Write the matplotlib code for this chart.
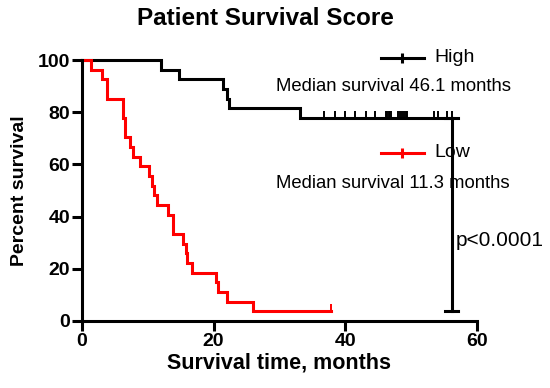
import numpy as np
import matplotlib
matplotlib.use("Agg")
import matplotlib.pyplot as plt

plt.rcParams['font.family'] = ['Liberation Sans', 'DejaVu Sans']

# ---- data (months) ----
high_death_times = [12.0, 14.7, 21.5, 22.0, 22.4, 33.1]
high_censor_times = [36.8, 38.5, 40.0, 41.5, 43.2, 44.5, 46.2, 46.4, 46.6, 46.8, 47.0,
                     48.0, 48.3, 48.6, 48.9, 49.2, 49.4, 53.5, 54.1, 55.4, 56.2]
low_death_times = [1.4, 3.0, 3.75, 3.75, 6.2, 6.2, 6.5, 6.5, 7.3, 7.8, 8.8, 10.2, 10.7,
                   10.9, 11.4, 13.1, 13.9, 13.9, 15.3, 15.8, 15.9, 16.7, 20.4, 20.6,
                   22.0, 26.0]
low_censor_times = [37.8]

group_names = ["High", "Low"]
median_texts = ["Median survival 46.1 months", "Median survival 11.3 months"]
p_text = "p<0.0001"
x_ticks = [0, 20, 40, 60]
y_ticks = [0, 20, 40, 60, 80, 100]


def kaplan_meier(deaths, censors):
    times = sorted(set(deaths) | set(censors))
    n = len(deaths) + len(censors)
    s = 100.0
    xs, ys = [0.0], [100.0]
    cx, cy = [], []
    for t in times:
        d = deaths.count(t)
        c = censors.count(t)
        if d:
            s = s * (n - d) / n
        xs.append(t)
        ys.append(s)
        if c:
            cx.append(t)
            cy.append(s)
        n -= d + c
    return np.array(xs), np.array(ys), np.array(cx), np.array(cy)


fig = plt.figure(figsize=(5.5, 3.88), dpi=100)
ax = fig.add_axes([0.149, 0.173, 0.718, 0.672])

LW = 2.2
colors = ["black", "#ff0000"]
finals = []
for deaths, censors, col in [(high_death_times, high_censor_times, colors[0]),
                             (low_death_times, low_censor_times, colors[1])]:
    xs, ys, cx, cy = kaplan_meier(deaths, censors)
    ax.plot(xs, ys, drawstyle='steps-post', color=col, lw=LW, clip_on=False,
            solid_joinstyle='miter')
    ax.plot(cx, cy, linestyle='none', marker=2, markersize=5, mew=1.4, color=col,
            clip_on=False)
    finals.append((xs[-1], ys[-1]))

# p-value bracket between the final values
bx = finals[0][0]
ax.plot([bx, bx], [finals[1][1], finals[0][1]], color='black', lw=LW, clip_on=False)
for yv in [finals[1][1], finals[0][1]]:
    ax.plot([bx - 1.0, bx + 1.0], [yv, yv], color='black', lw=LW, clip_on=False)
ax.text(bx + 0.6, 31, p_text, fontsize=15, ha='left', va='center')

# legend-like annotations
leg_y = [101, 64.5]
for name, col, ly, mt, my in zip(group_names, colors, leg_y, median_texts, [90, 52.5]):
    ax.plot([45.5, 52], [ly, ly], color=col, lw=LW, clip_on=False)
    ax.plot([48.7], [ly], marker='|', markersize=7, mew=LW, color=col, clip_on=False)
    ax.text(53.5, ly, name, fontsize=14, ha='left', va='center')
    ax.text(47.3, my, mt, fontsize=13.3, ha='center', va='center')

ax.set_xlim(0, 60)
ax.set_ylim(0, 100)
ax.set_xticks(x_ticks)
ax.set_yticks(y_ticks)
for sp in ['top', 'right']:
    ax.spines[sp].set_visible(False)
for sp in ['left', 'bottom']:
    ax.spines[sp].set_linewidth(LW)
ax.tick_params(axis='both', direction='out', length=7, width=LW, labelsize=14, pad=1.5)
for lab in ax.get_xticklabels() + ax.get_yticklabels():
    lab.set_fontweight('bold')

ax.set_xlabel("Survival time, months", fontsize=15.5, fontweight='bold', labelpad=2)
ax.set_ylabel("Percent survival", fontsize=14, fontweight='bold', labelpad=7)
fig.text(0.483, 0.953, "Patient Survival Score", fontsize=17.5, fontweight='bold',
         ha='center', va='center')

fig.savefig("out.png", dpi=100)
